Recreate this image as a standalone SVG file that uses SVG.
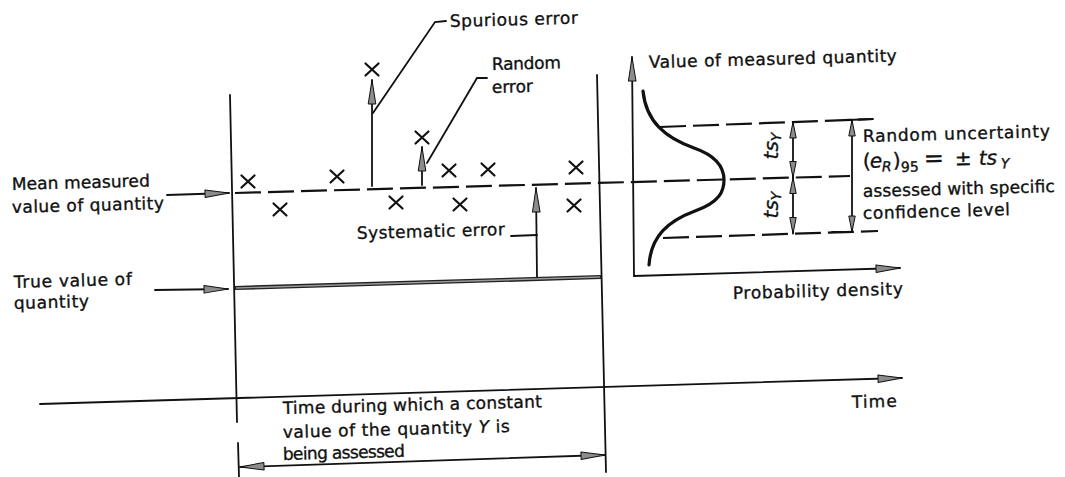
<svg xmlns="http://www.w3.org/2000/svg" width="1065" height="477" viewBox="0 0 1065 477">
<style>
  .ln{fill:none;stroke:#111;stroke-width:1.8;stroke-linecap:round}
  .dash{fill:none;stroke:#111;stroke-width:2.2;stroke-dasharray:26 7}
  .xm{fill:none;stroke:#111;stroke-width:2.2;stroke-linecap:round}
  .head{fill:#8c8c8c;stroke:#111;stroke-width:1;stroke-linejoin:round}
  text{font-family:"DejaVu Sans","Liberation Sans",sans-serif;font-size:17px;fill:#111;stroke:#111;stroke-width:0.35}
  .it{font-style:italic}
  .sub{font-size:13px}
  .eq{font-size:20px}
  .eqsub{font-size:14px}
  .big{font-size:24px}
  .tsy{font-size:20px}
</style>
<defs>
  <marker id="ah" viewBox="-26 -5 27 10" refX="0" refY="0" markerWidth="27" markerHeight="10" markerUnits="userSpaceOnUse" orient="auto-start-reverse">
    <path class="head" d="M0,0 L-24,-3.8 L-24,3.8 Z"/>
  </marker>
  <marker id="as" viewBox="-18 -4 19 8" refX="0" refY="0" markerWidth="19" markerHeight="8" markerUnits="userSpaceOnUse" orient="auto-start-reverse">
    <path class="head" d="M0,0 L-16,-3.2 L-16,3.2 Z"/>
  </marker>
</defs>
<rect width="1065" height="477" fill="#fff"/>

<g id="connectors">
  <line class="ln" x1="230" y1="95" x2="237" y2="422"/>
  <line class="ln" x1="238" y1="443" x2="239" y2="477"/>
  <line class="ln" x1="597" y1="75" x2="606" y2="472"/>
  <line class="dash" x1="235" y1="193" x2="850" y2="176"/>
  <line x1="235" y1="288" x2="601" y2="277" stroke="#222" stroke-width="4.2"/>
  <line x1="236" y1="288" x2="600" y2="277" stroke="#9a9a9a" stroke-width="1.4"/>
  <line class="ln" x1="167" y1="195" x2="229" y2="193" marker-end="url(#ah)"/>
  <line class="ln" x1="155" y1="290" x2="228" y2="289" marker-end="url(#ah)"/>
  <line class="ln" x1="537" y1="277" x2="536" y2="188" marker-end="url(#ah)"/>
  <polyline class="ln" points="511,236 537,235"/>
  <line class="ln" x1="372" y1="186" x2="372" y2="80" marker-end="url(#ah)"/>
  <polyline class="ln" points="373,113 435,22 446,21"/>
  <line class="ln" x1="422" y1="185" x2="422" y2="147" marker-end="url(#ah)"/>
  <polyline class="ln" points="427,163 477,78 487,78"/>
  <line class="ln" x1="40" y1="404" x2="902" y2="378" marker-end="url(#ah)"/>
  <line class="ln" x1="240" y1="467" x2="605" y2="455" marker-start="url(#ah)" marker-end="url(#ah)"/>
  <line class="ln" x1="634" y1="276" x2="632" y2="57" marker-end="url(#ah)"/>
  <line class="ln" x1="634" y1="276" x2="900" y2="268" marker-end="url(#ah)"/>
  <line class="dash" x1="660" y1="127" x2="873" y2="119"/>
  <line class="dash" x1="663" y1="238" x2="878" y2="231"/>
  <line class="ln" x1="793" y1="122" x2="793" y2="177.5" marker-start="url(#as)" marker-end="url(#as)"/>
  <line class="ln" x1="793" y1="177.5" x2="793" y2="233.5" marker-start="url(#as)" marker-end="url(#as)"/>
  <line class="ln" x1="852" y1="120" x2="852" y2="232" marker-start="url(#as)" marker-end="url(#as)"/>
  <line class="ln" x1="847" y1="120" x2="873" y2="119"/>
  <line class="ln" x1="832" y1="232" x2="852" y2="232"/>
</g>

<g id="bell-curve">
  <path d="M643,91 C646,122 666,138 694,148 C720,157 724,170 724,180 C724,191 720,202 695,211 C668,221 651,236 649,265" fill="none" stroke="#111" stroke-width="3.2" stroke-linecap="round"/>
</g>

<g id="readings">
  <path class="xm" d="M241.5,175.5 l13,12 M254.5,175.5 l-13,12"/>
  <path class="xm" d="M273.5,203.5 l13,12 M286.5,203.5 l-13,12"/>
  <path class="xm" d="M330.5,170.5 l13,12 M343.5,170.5 l-13,12"/>
  <path class="xm" d="M365.5,63.5 l13,12 M378.5,63.5 l-13,12"/>
  <path class="xm" d="M389.5,196.5 l13,12 M402.5,196.5 l-13,12"/>
  <path class="xm" d="M415.5,131.5 l13,12 M428.5,131.5 l-13,12"/>
  <path class="xm" d="M442.5,164.5 l13,12 M455.5,164.5 l-13,12"/>
  <path class="xm" d="M453.5,198.5 l13,12 M466.5,198.5 l-13,12"/>
  <path class="xm" d="M481.5,163.5 l13,12 M494.5,163.5 l-13,12"/>
  <path class="xm" d="M569.5,161.5 l13,12 M582.5,161.5 l-13,12"/>
  <path class="xm" d="M567.5,199.5 l13,12 M580.5,199.5 l-13,12"/>
</g>

<g id="label-spurious"><text x="450" y="27" textLength="128" transform="rotate(-1.5 450 27)">Spurious error</text></g>
<g id="label-random-error">
  <text x="492" y="70" textLength="69" transform="rotate(-1.5 492 70)">Random</text>
  <text x="492" y="93" textLength="41" transform="rotate(-1.5 492 93)">error</text>
</g>
<g id="label-mean">
  <text x="12" y="190" textLength="138" transform="rotate(-1.5 12 190)">Mean measured</text>
  <text x="12" y="213" textLength="152" transform="rotate(-1.5 12 213)">value of quantity</text>
</g>
<g id="label-systematic"><text x="357" y="239" textLength="148" transform="rotate(-1.5 357 239)">Systematic error</text></g>
<g id="label-true">
  <text x="14" y="288" textLength="118" transform="rotate(-1.5 14 288)">True value of</text>
  <text x="14" y="309" textLength="75" transform="rotate(-1.5 14 309)">quantity</text>
</g>
<g id="label-value-axis"><text x="649" y="68" textLength="248" transform="rotate(-1.5 649 68)">Value of measured quantity</text></g>
<g id="label-uncertainty">
  <text x="863" y="142" textLength="187" transform="rotate(-1.5 863 142)">Random uncertainty</text>
  <text class="eq" x="863" y="168" transform="rotate(-1.5 863 168)">(<tspan class="it" x="870">e</tspan><tspan class="it eqsub" x="882" dy="4">R</tspan><tspan x="893" dy="-4">)</tspan><tspan class="eqsub" x="901" dy="5">95</tspan><tspan class="big" x="924" dy="-5">=</tspan><tspan x="955">±</tspan><tspan class="it" x="979">ts</tspan><tspan class="it eqsub" x="1001" dy="4">Y</tspan></text>
  <text x="863" y="197" textLength="192" transform="rotate(-1.5 863 197)">assessed with specific</text>
  <text x="863" y="219" textLength="147" transform="rotate(-1.5 863 219)">confidence level</text>
</g>
<g id="label-tsy-upper"><text class="tsy" transform="translate(778,146) rotate(-90)" text-anchor="middle"><tspan class="it">ts</tspan><tspan class="it eqsub" dy="3">Y</tspan></text></g>
<g id="label-tsy-lower"><text class="tsy" transform="translate(778,205) rotate(-90)" text-anchor="middle"><tspan class="it">ts</tspan><tspan class="it eqsub" dy="3">Y</tspan></text></g>
<g id="label-prob"><text x="733" y="299" textLength="170" transform="rotate(-1.5 733 299)">Probability density</text></g>
<g id="label-time"><text x="852" y="408" textLength="45" transform="rotate(-1.5 852 408)">Time</text></g>
<g id="label-duration">
  <text x="283" y="414" textLength="259" transform="rotate(-1.5 283 414)">Time during which a constant</text>
  <text x="283" y="438" textLength="227" transform="rotate(-1.5 283 438)">value of the quantity <tspan class="it">Y</tspan> is</text>
  <text x="283" y="460" textLength="122" transform="rotate(-1.5 283 460)">being assessed</text>
</g>
</svg>
